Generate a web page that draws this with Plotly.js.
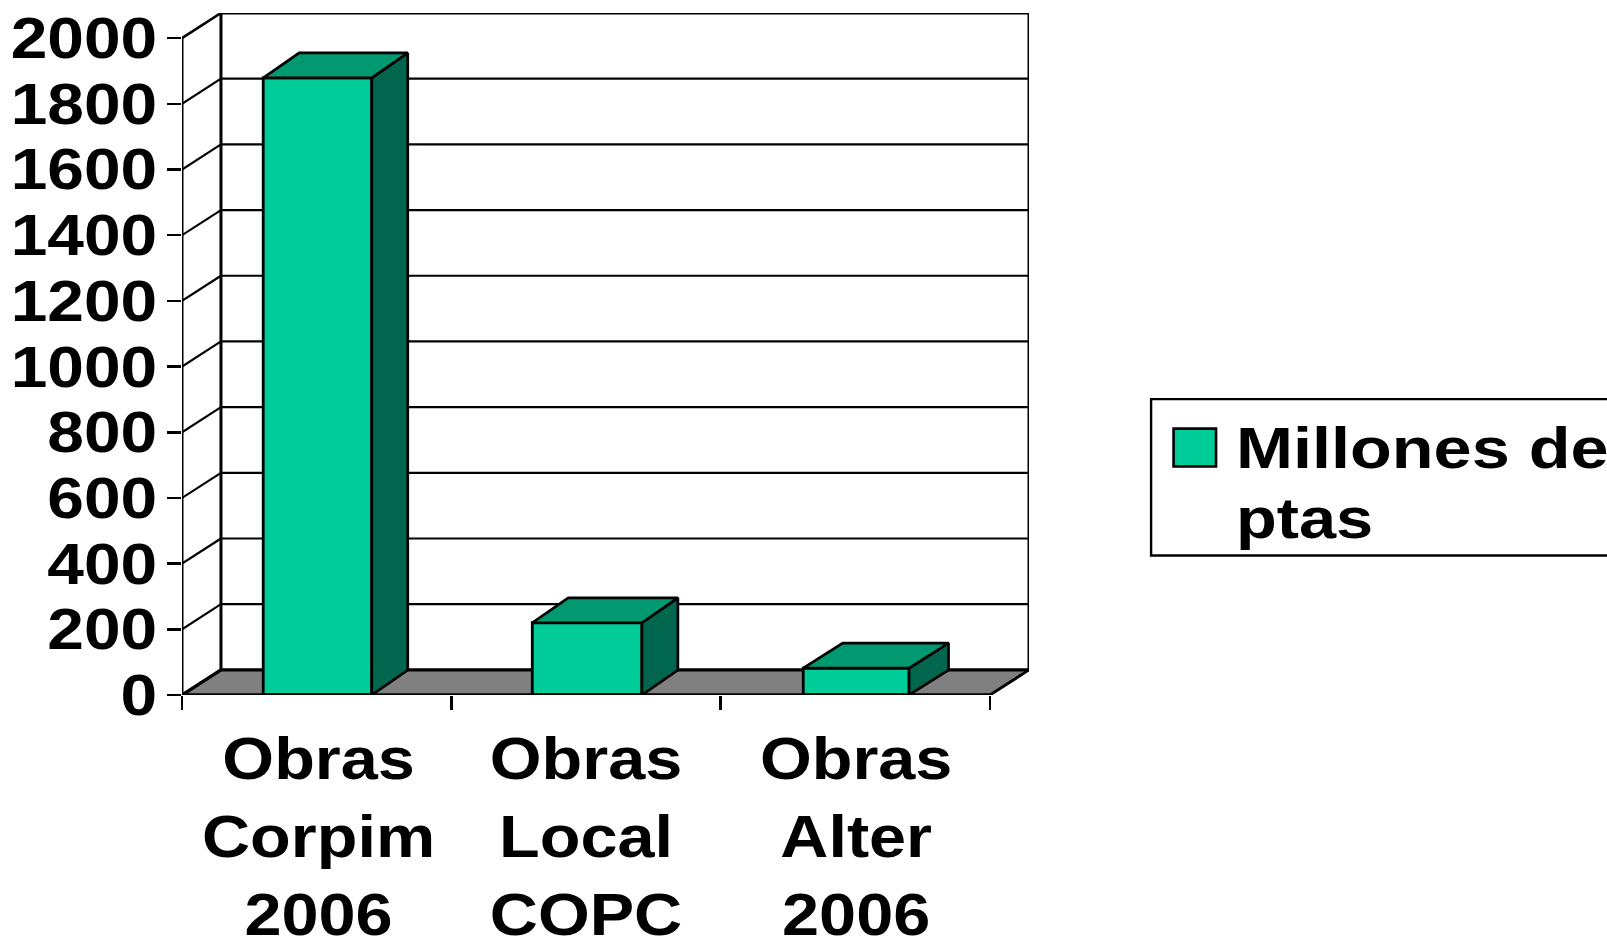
<!DOCTYPE html>
<html>
<head>
<meta charset="utf-8">
<script src="https://cdn.plot.ly/plotly-3.0.1.min.js"></script>
<style>html,body{margin:0;padding:0;background:#fff;overflow:hidden}</style>
</head>
<body>
<div id="chart" style="width:1607px;height:937px"></div>
<script>
// ---- data ----
const categories = ["Obras<br>Corpim<br>2006", "Obras<br>Local<br>COPC", "Obras<br>Alter<br>2006"];
const legendLines = ["Millones de", "ptas"];
const values = [1879, 220, 82];
const yTicks = [0, 200, 400, 600, 800, 1000, 1200, 1400, 1600, 1800, 2000];

// ---- geometry of the pseudo-3D box, in axis units ----
const barCentres = [0.503, 1.504, 2.503];
const barWidths = [0.403, 0.407, 0.393];
const labelCentres = [0.507, 1.5, 2.503];
const wallDX = 0.1447, wallDY = 76.5;      // depth of the back wall
const barDXs = [0.1336, 0.1336, 0.1465];   // depth of each bar
const barDY = 76;
const yMax = 2000, nCat = 3;

// ---- plot area in pixels ----
const L = 181.5, R = 1029.3, T = 13.3, B = 695.5, W = 1607, H = 937;
const px = v => (v - L) / (R - L), py = v => (B - v) / (B - T);

const FRONT = "#00CC99", TOP = "#009970", SIDE = "#00664D", FLOOR = "#808080";
const FONT = "Liberation Sans, Arial, sans-serif";

function poly(xs, ys, fill) {
  return {type: "scatter", mode: "lines", x: xs, y: ys, fill: "toself", fillcolor: fill,
    line: {color: "#000", width: 2.7}, hoverinfo: "skip", showlegend: false, cliponaxis: false};
}
function edge(xs, ys, w) {
  return {type: "scatter", mode: "lines", x: xs, y: ys, line: {color: "#000", width: w},
    hoverinfo: "skip", showlegend: false, cliponaxis: false};
}

const traces = [{
  type: "bar", x: barCentres, y: values, width: barWidths, name: legendLines.join(" "),
  marker: {color: FRONT, line: {color: "#000", width: 2.8}},
  hoverinfo: "y", showlegend: false, cliponaxis: false
}];
values.forEach((v, i) => {
  const x0 = barCentres[i] - barWidths[i] / 2, x1 = barCentres[i] + barWidths[i] / 2, d = barDXs[i];
  traces.push(poly([x1, x1 + d, x1 + d, x1, x1], [0, barDY, v + barDY, v, 0], SIDE));
  traces.push(poly([x0, x0 + d, x1 + d, x1, x0], [v, v + barDY, v + barDY, v, v], TOP));
});
const xE = nCat + wallDX, yE = yMax + wallDY;
traces.push(edge([0, 0], [0, yMax], 3));                        // front value axis
traces.push(edge([0, nCat], [0, 0], 3.6));                      // front base line
traces.push(edge([0, wallDX], [0, wallDY], 3.4));               // floor left edge
traces.push(edge([nCat, xE], [0, wallDY], 2.8));                // floor right edge
traces.push(edge([wallDX, wallDX, xE, xE], [wallDY, yE, yE, wallDY], 3)); // wall outline
traces.push(edge([0, wallDX], [yMax, yE], 2.6));                // top diagonal

const shapes = [];
shapes.push({type: "path", layer: "below", xref: "x", yref: "y",
  path: `M0,0L${wallDX},${wallDY}L${xE},${wallDY}L${nCat},0Z`, fillcolor: FLOOR, line: {width: 0}});
shapes.push({type: "line", layer: "below", xref: "x", yref: "y", x0: wallDX, x1: xE, y0: wallDY, y1: wallDY,
  line: {color: "#000", width: 3.2}});
yTicks.slice(1, -1).forEach(t => {
  shapes.push({type: "line", layer: "below", xref: "x", yref: "y", x0: wallDX, x1: xE, y0: t + wallDY, y1: t + wallDY,
    line: {color: "#000", width: 2.2}});
  shapes.push({type: "line", layer: "below", xref: "x", yref: "y", x0: 0, x1: wallDX, y0: t, y1: t + wallDY,
    line: {color: "#000", width: 2.2}});
});
// legend box and swatch
shapes.push({type: "rect", xref: "paper", yref: "paper", x0: px(1151.5), x1: px(1625), y0: py(556), y1: py(399.5),
  line: {color: "#000", width: 2.4}, fillcolor: "#fff"});
shapes.push({type: "rect", xref: "paper", yref: "paper", x0: px(1174), x1: px(1216.5), y0: py(467), y1: py(429),
  line: {color: "#000", width: 2.6}, fillcolor: FRONT});

const legendFont = {family: FONT, size: 58, weight: 700, color: "#000"};
const legendTops = [414.4, 484];
const legendStretch = [1.18, 1.15];

const layout = {
  width: W, height: H, autosize: false, paper_bgcolor: "#fff", plot_bgcolor: "#fff",
  margin: {l: L, r: W - R, t: T, b: H - B, pad: 0},
  showlegend: false, bargap: 0, shapes: shapes,
  font: {family: FONT, color: "#000"},
  xaxis: {
    range: [0, xE], tickmode: "array", tickvals: labelCentres, ticktext: categories,
    ticks: "", showgrid: false, zeroline: false, showline: false, ticklabelstandoff: 23,
    tickfont: {family: FONT, size: 60, weight: 700, color: "#000"},
    tickangle: 0,
    minor: {tickmode: "array", tickvals: [0, 1, 2, 3], ticks: "outside", ticklen: 14, tickwidth: 2.6, tickcolor: "#000", showgrid: false}
  },
  yaxis: {
    range: [0, yE], tickmode: "array", tickvals: yTicks, ticks: "outside", ticklen: 14.5, tickwidth: 2.6,
    tickcolor: "#000", showgrid: false, zeroline: false, showline: false, ticklabelstandoff: -2,
    tickfont: {family: FONT, size: 57, weight: 700, color: "#000"}
  },
  annotations: legendLines.map((line, i) => ({
    xref: "paper", yref: "paper", x: px(1235), y: py(legendTops[i]), xanchor: "left", yanchor: "top", align: "left",
    text: line, showarrow: false, borderpad: 0, font: legendFont
  }))
};

// The original type is horizontally wider than the installed font: widen the real text glyphs.
function widen(elements, factor, anchor) {
  elements.forEach(el => {
    const b = el.getBBox();
    const ax = anchor === "left" ? b.x : anchor === "right" ? b.x + b.width : b.x + b.width / 2;
    const t = el.getAttribute("transform") || "";
    el.setAttribute("transform", `${t} translate(${ax},0) scale(${factor},1) translate(${-ax},0)`);
  });
}
Plotly.newPlot("chart", traces, layout, {displayModeBar: false, staticPlot: true}).then(() => {
  widen(document.querySelectorAll(".ytick text"), 1.155, "right");
  widen(document.querySelectorAll(".xtick text"), 1.11, "center");
  document.querySelectorAll(".annotation-text").forEach((el, i) => widen([el], legendStretch[i], "left"));
});
</script>
</body>
</html>
